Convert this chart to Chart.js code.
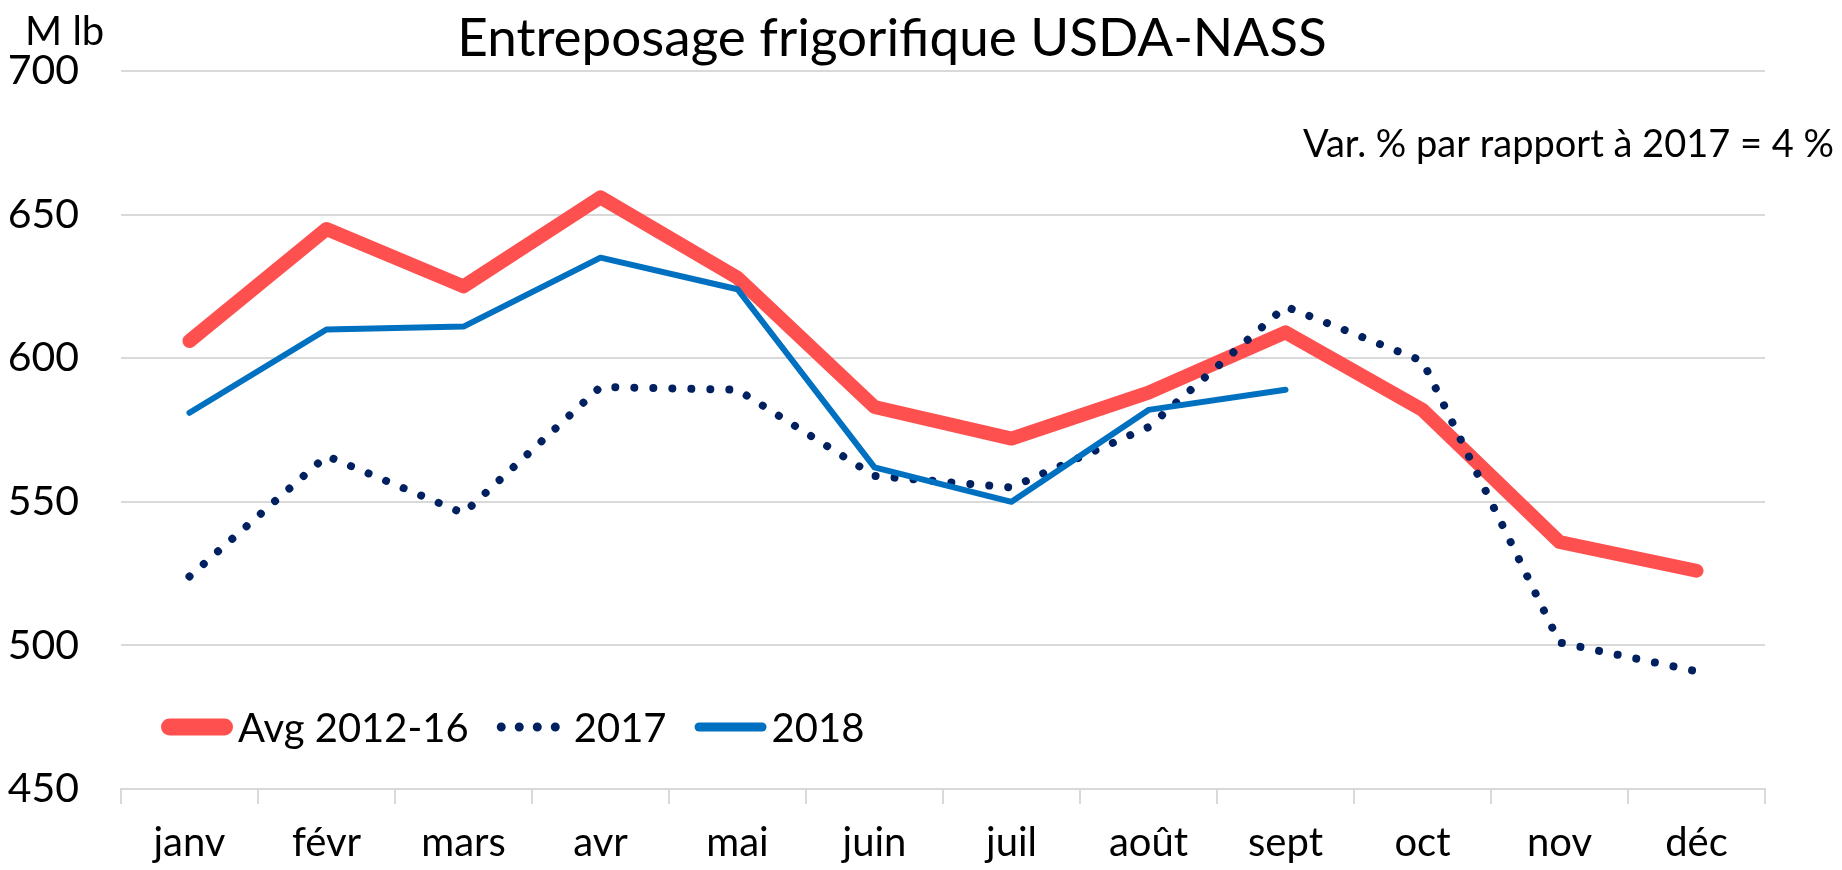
<!DOCTYPE html>
<html>
<head>
<meta charset="utf-8">
<script src="https://cdn.jsdelivr.net/npm/chart.js@4.4.1/dist/chart.umd.min.js"></script>
<style>
  html, body { margin: 0; padding: 0; background: #fff; }
  #storageChart { display: block; }
</style>
</head>
<body>
<canvas id="storageChart" width="1842" height="870"></canvas>
<script>
// Data (million lb)
const months = ['janv', 'févr', 'mars', 'avr', 'mai', 'juin', 'juil', 'août', 'sept', 'oct', 'nov', 'déc'];
const avg2012to16 = [606, 645, 625, 656, 628, 583, 572, 588, 609, 582, 536, 526];
const values2017 = [524, 566, 546, 590, 589, 559, 555, 576, 618, 599, 501, 491];
const values2018 = [581, 610, 611, 635, 624, 562, 550, 582, 589, null, null, null];
const yMin = 450;
const yMax = 700;
const yStep = 50;

const titleText = 'Entreposage frigorifique USDA-NASS';
const unitText = 'M lb';
const noteText = 'Var. % par rapport à 2017 = 4 %';

const FONT = 'Lato, "Open Sans", sans-serif';

// draws the title, unit, note and the in-plot legend
const textsPlugin = {
    id: 'texts',
    afterDraw(chart) {
        const ctx = chart.ctx;
        const area = chart.chartArea;
        ctx.save();
        ctx.fillStyle = '#000';
        ctx.textBaseline = 'alphabetic';

        ctx.font = '53px ' + FONT;
        ctx.textAlign = 'center';
        ctx.fillText(titleText, 892, 56);

        ctx.font = '40px ' + FONT;
        ctx.textAlign = 'left';
        ctx.fillText(unitText, 25, 45);

        ctx.font = '38px ' + FONT;
        ctx.textAlign = 'right';
        ctx.fillText(noteText, 1834, 157);

        // legend inside the plot, bottom left
        const legendY = 727;
        let x = area.left + 40;
        chart.data.datasets.forEach(ds => {
            const w = ds.legendWidth;
            ctx.save();
            ctx.strokeStyle = ds.borderColor;
            ctx.lineWidth = w;
            ctx.lineCap = 'round';
            ctx.setLineDash(ds.legendDash || []);
            ctx.beginPath();
            ctx.moveTo(x + w / 2, legendY);
            ctx.lineTo(x + 72 - w / 2, legendY);
            ctx.stroke();
            ctx.restore();

            ctx.font = '40px ' + FONT;
            ctx.textAlign = 'left';
            ctx.textBaseline = 'middle';
            ctx.fillText(ds.label, x + 77, legendY + 2);
            x += 77 + ctx.measureText(ds.label).width + 28;
        });
        ctx.restore();
    }
};

const storageCtx = document.getElementById('storageChart').getContext('2d');
const storageChart = new Chart(storageCtx, {
    type: 'line',
    data: {
        labels: months,
        datasets: [{
            label: 'Avg 2012-16',
            data: avg2012to16,
            borderColor: '#FF5050',
            borderWidth: 14,
            legendWidth: 17,
            borderCapStyle: 'round',
            borderJoinStyle: 'round',
            pointRadius: 0,
            order: 3
        }, {
            label: '2017',
            data: values2017,
            borderColor: '#002060',
            borderWidth: 8,
            legendWidth: 9,
            borderDash: [0.01, 19],
            legendDash: [0.01, 18],
            borderCapStyle: 'round',
            pointRadius: 0,
            order: 2
        }, {
            label: '2018',
            data: values2018,
            borderColor: '#0070C0',
            borderWidth: 6,
            legendWidth: 9,
            borderCapStyle: 'round',
            borderJoinStyle: 'round',
            pointRadius: 0,
            spanGaps: false,
            order: 1
        }]
    },
    options: {
        responsive: false,
        animation: false,
        devicePixelRatio: 1,
        layout: {
            padding: { top: 71, right: 77, left: 0, bottom: 0 }
        },
        plugins: {
            legend: { display: false },
            title: { display: false },
            tooltip: { enabled: false }
        },
        scales: {
            x: {
                offset: true,
                grid: {
                    offset: true,
                    drawOnChartArea: false,
                    drawTicks: true,
                    tickLength: 15,
                    color: '#d9d9d9',
                    lineWidth: 2
                },
                border: { display: true, color: '#d9d9d9', width: 2 },
                ticks: {
                    color: '#000',
                    font: { family: FONT, size: 40 },
                    padding: 15,
                    maxRotation: 0,
                    autoSkip: false
                },
                afterFit(scale) { scale.height = 81; }
            },
            y: {
                min: yMin,
                max: yMax,
                grid: {
                    color: '#d9d9d9',
                    lineWidth: 2,
                    drawTicks: false
                },
                border: { display: false },
                ticks: {
                    stepSize: yStep,
                    color: '#000',
                    font: { family: FONT, size: 41 },
                    padding: 42
                },
                afterFit(scale) { scale.width = 121; }
            }
        }
    },
    plugins: [textsPlugin]
});
</script>
</body>
</html>
